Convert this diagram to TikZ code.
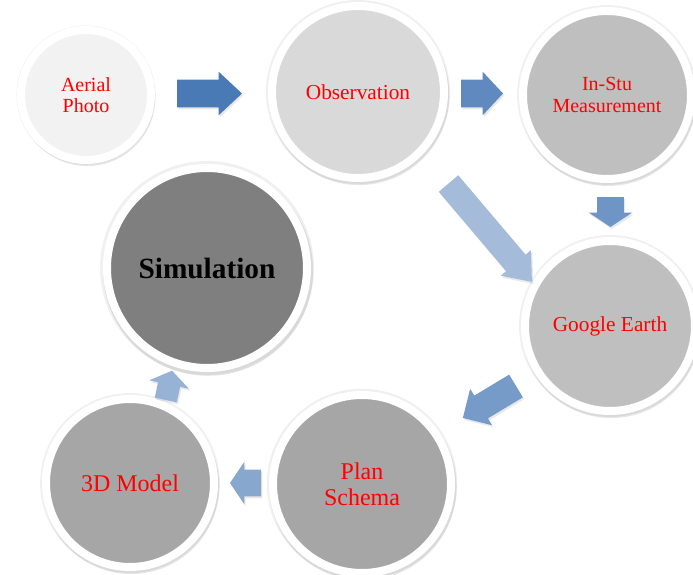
\documentclass[tikz,border=0pt]{standalone}
\usepackage{fontspec}
\setmainfont{Liberation Serif}
\usetikzlibrary{shapes.arrows,shadows}
\definecolor{stageone}{HTML}{F2F2F2}
\definecolor{stagetwo}{HTML}{D9D9D9}
\definecolor{stagethree}{HTML}{BFBFBF}
\definecolor{stagefour}{HTML}{A6A6A6}
\definecolor{stagefive}{HTML}{7F7F7F}
\definecolor{flowblue}{RGB}{74,122,182}

\tikzset{
  stage/.style={circle, draw=white, line width=6pt, text=red, align=center, inner sep=0pt,
    general shadow={fill=black, opacity=0.06, shadow scale=1.07},
    drop shadow={opacity=0.2, shadow xshift=0.8pt, shadow yshift=-2pt, shadow scale=1.05}},
  blockarrow/.style={single arrow, anchor=tail, inner xsep=0pt, outer sep=0pt,
    draw=none, drop shadow={opacity=0.18, shadow xshift=1pt, shadow yshift=-1.5pt}}
}

\begin{document}
\begin{tikzpicture}[x=0.75pt, y=-0.75pt]
    \useasboundingbox (0,0) rectangle (693,575);

    % Top row
    \node[stage, fill=stageone, minimum size=97.5pt, font=\fontsize{15}{16}\selectfont] (aerial) at (86,95) {Aerial\\Photo};
    \node[stage, fill=stagetwo, minimum size=129pt, font=\fontsize{16}{17}\selectfont] (observation) at (358,92) {Observation};
    \node[stage, fill=stagethree, minimum size=126pt, font=\fontsize{15}{16}\selectfont] (insitu) at (607,95) {In-Stu\\Measurement};

    % Right side
    \node[stage, fill=stagethree, minimum size=127.5pt, font=\fontsize{16}{17}\selectfont] (google) at (610,326) {Google Earth};

    % Bottom row
    \node[stage, fill=stagefour, minimum size=133.5pt, font=\fontsize{18}{19.5}\selectfont] (plan) at (362,484) {Plan\\Schema};
    \node[stage, fill=stagefour, minimum size=126pt, font=\fontsize{18}{19.5}\selectfont] (model) at (130,483) {3D Model};

    % Simulation
    \node[stage, fill=stagefive, text=black, minimum size=150pt, font=\fontsize{22}{24}\selectfont\bfseries] (simulation) at (207,268) {Simulation};

    % Block arrows
    \node[blockarrow, fill=flowblue, minimum height=48.75pt, inner ysep=10.125pt,
      single arrow head extend=6pt, single arrow tip angle=86] (a1) at (177,93.5) {};
    \node[blockarrow, fill=flowblue!88, minimum height=31.5pt, inner ysep=10.125pt,
      single arrow head extend=6pt, single arrow tip angle=94] (a2) at (461,93.5) {};
    \node[blockarrow, fill=flowblue!80, minimum height=22.5pt, inner ysep=9.75pt,
      single arrow head extend=6.375pt, single arrow tip angle=113, rotate=-90] (a3) at (610.5,197) {};
    \node[blockarrow, fill=flowblue!50, minimum height=96.75pt, inner ysep=9.375pt,
      single arrow head extend=5.25pt, single arrow tip angle=77, rotate=-49.7] (a4) at (448.5,183.5) {};
    \node[blockarrow, fill=flowblue!75, minimum height=46.5pt, inner ysep=9.75pt,
      single arrow head extend=6pt, single arrow tip angle=90, rotate=211] (a5) at (516,386) {};
    \node[blockarrow, fill=flowblue!66, minimum height=23.25pt, inner ysep=9.75pt,
      single arrow head extend=6pt, single arrow tip angle=112, rotate=180] (a6) at (261,483) {};
    \node[blockarrow, fill=flowblue!58, minimum height=22.5pt, inner ysep=8.25pt,
      single arrow head extend=6.75pt, single arrow tip angle=110, rotate=78] (a7) at (165.8,400) {};
\end{tikzpicture}
\end{document}
